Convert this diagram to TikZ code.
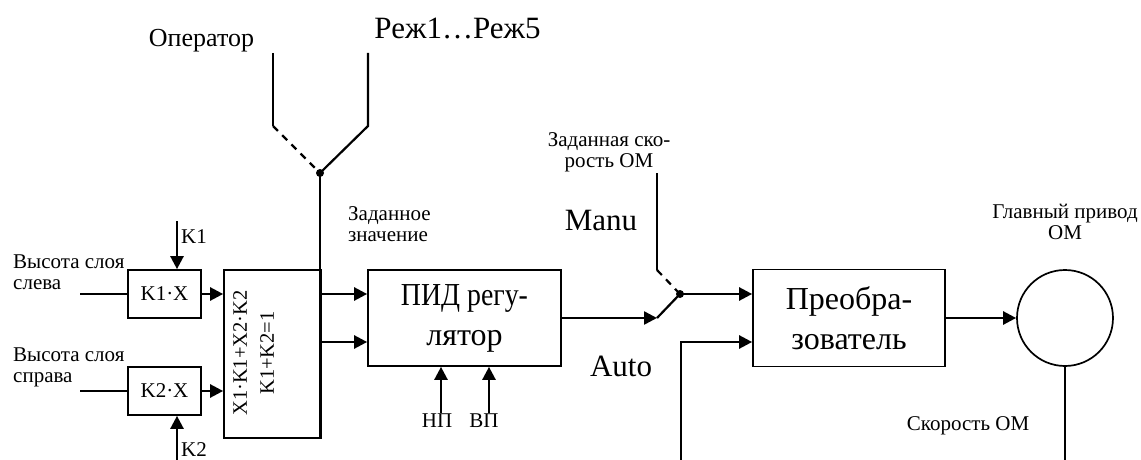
\documentclass[tikz,border=0pt]{standalone}
\usepackage{fontspec}
\usepackage{graphicx}
\setmainfont{Liberation Serif}
\usetikzlibrary{arrows.meta,calc}
\tikzset{
  blk/.style={draw,line width=1.7pt,inner sep=0pt,align=center},
  sig/.style={line width=2.5pt,-{Triangle[length=13pt,width=13pt]}},
  ln/.style={line width=2.2pt},
  thin/.style={line width=1.4pt},
  lbl/.style={inner sep=0pt,align=left},
  smallf/.style={font=\fontsize{21}{21}\selectfont},
  midf/.style={font=\fontsize{21}{21}\selectfont},
  bigf/.style={font=\fontsize{31}{40}\selectfont},
  dotc/.style={circle,fill=black,inner sep=0pt,minimum size=8pt},
}
\begin{document}
\begin{tikzpicture}[x=1pt,y=-1pt]
\useasboundingbox (0,0) rectangle (1141,460);
% blocks
\node[blk,midf,minimum width=73pt,minimum height=48pt] (k1x) at (164.5,294) {K1·X};
\node[blk,midf,minimum width=73pt,minimum height=48pt] (k2x) at (164.5,391) {K2·X};
\node[blk,minimum width=97pt,minimum height=168pt] (sum) at (272.5,354) {};
\node[rotate=90,align=center,inner sep=0pt,font=\fontsize{20.5}{27}\selectfont] (sumtxt) at (253.5,353) {X1·K1+X2·K2\\K1+K2=1};
\node[blk,minimum width=193pt,minimum height=96pt,font=\fontsize{32}{40}\selectfont] (pid) at (464.5,318) {\scalebox{0.87}[1]{ПИД регу-}\\лятор};
\node[blk,minimum width=192pt,minimum height=97pt,font=\fontsize{32}{40}\selectfont] (conv) at (849,318) {Преобра-\\зователь};
\node[draw,circle,line width=1.7pt,minimum size=96pt,inner sep=0pt] (motor) at (1065,318) {};
% junction dots
\node[dotc] (jn) at (320,173) {};
\node[dotc] (sw) at (680,294) {};
% coordinates
\coordinate (in1) at (80,294);
\coordinate (in2) at (80,391);
\coordinate (k1s) at (177,221);
\coordinate (k2s) at (177,460);
\coordinate (opA) at (273,53);
\coordinate (opB) at (273,126);
\coordinate (rzA) at (368,53);
\coordinate (rzB) at (368,126);
\coordinate (npS) at (441,413);
\coordinate (vpS) at (489,413);
\coordinate (blade) at (657,318);
\coordinate (mA) at (657,173);
\coordinate (mB) at (657,270);
\coordinate (fbS) at (681,460);
\coordinate (fbC) at (681,342);
\coordinate (spd) at (1065,460);
% connectors
\draw[thin] (in1) -- (k1x.west);
\draw[thin] (in2) -- (k2x.west);
\draw[sig] (k1s) -- (k1s |- k1x.north);
\draw[sig] (k2s) -- (k2s |- k2x.south);
\draw[sig] (k1x.east) -- (sum.west |- k1x.east);
\draw[sig] (k2x.east) -- (sum.west |- k2x.east);
\draw[ln] (jn.center) -- (jn.center |- sum.south);
\draw[sig] (jn.center |- 0,294) -- (pid.west |- 0,294);
\draw[sig] (jn.center |- 0,342) -- (pid.west |- 0,342);
\draw[ln] (opA) -- (opB);
\draw[ln,dash pattern=on 7pt off 6pt] (opB) -- (jn.center);
\draw[ln] (rzA) -- (rzB) -- (jn.center);
\draw[sig] (npS) -- (npS |- pid.south);
\draw[sig] (vpS) -- (vpS |- pid.south);
\draw[sig] (pid.east) -- (blade);
\draw[ln] (blade) -- (sw.center);
\draw[ln] (mA) -- (mB);
\draw[ln,dash pattern=on 7pt off 6pt] (mB) -- (sw.center);
\draw[sig] (sw.center) -- (conv.west |- sw.center);
\draw[sig] (fbS) -- (fbC) -- (conv.west |- fbC);
\draw[sig] (conv.east) -- (motor.west);
\draw[ln] (motor.south) -- (spd);
% labels
\node[lbl,midf,anchor=west] (lh1) at (13,272.5) {Высота слоя\\слева};
\node[lbl,midf,anchor=west] (lh2) at (13,367.5) {Высота слоя\\справа};
\node[lbl,midf,anchor=west] (lk1) at (181,237) {K1};
\node[lbl,midf,anchor=west] (lk2) at (181,450) {K2};
\node[lbl,font=\fontsize{26}{30}\selectfont] (lop) at (201.5,41) {Оператор};
\node[lbl,bigf] (lrz) at (457.5,28) {Реж1…Реж5};
\node[lbl,smallf,anchor=west] (lzz) at (348,224) {Заданное\\значение};
\node[lbl,smallf,align=center] (lzs) at (609,152) {Заданная ско-\\рость ОМ};
\node[lbl,bigf] (lmanu) at (601,221) {Manu};
\node[lbl,bigf] (lauto) at (621,366) {Auto};
\node[lbl,smallf,align=center] (lgp) at (1065,222) {Главный привод\\ОМ};
\node[lbl,smallf] (lsk) at (968,426) {Скорость ОМ};
\node[lbl,smallf] (lnp) at (437,421) {НП};
\node[lbl,smallf] (lvp) at (484,421) {ВП};
\end{tikzpicture}
\end{document}
